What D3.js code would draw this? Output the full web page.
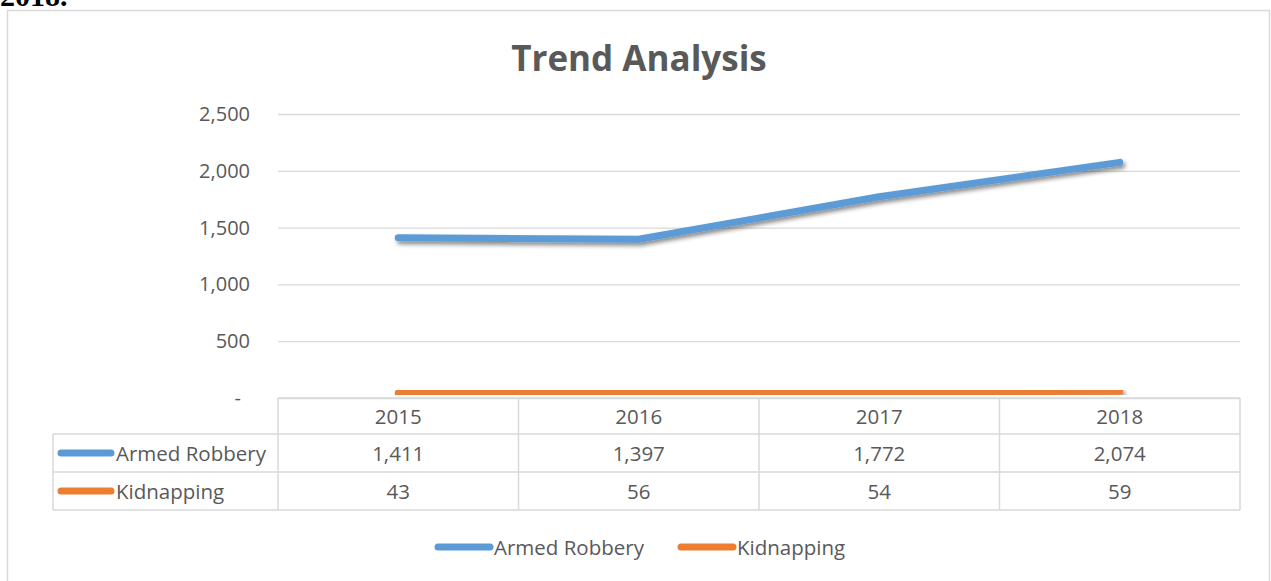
<!DOCTYPE html>
<html>
<head>
<meta charset="utf-8">
<script src="https://cdn.jsdelivr.net/npm/d3@7"></script>
<style>
  body { margin: 0; background: #fff; }
  text { font-family: "Open Sans", sans-serif; }
</style>
</head>
<body>
<svg id="chart" width="1271" height="581"></svg>
<script>
const years = ['2015', '2016', '2017', '2018'];
const robbery = [1411, 1397, 1772, 2074];
const kidnapping = [43, 56, 54, 59];
const seriesNames = ['Armed Robbery', 'Kidnapping'];
const seriesColors = ['#5b9bd5', '#ed7d31'];
const yTicks = [0, 500, 1000, 1500, 2000, 2500];

const svg = d3.select('#chart');
const width = +svg.attr('width');
const height = +svg.attr('height');

const series = [robbery, kidnapping];

// drop shadow like the office chart
const defs = svg.append('defs');
const f = defs.append('filter').attr('id', 'shadow')
    .attr('x', '-5%').attr('y', '-50%').attr('width', '110%').attr('height', '200%');
f.append('feDropShadow').attr('dx', 2).attr('dy', 3).attr('stdDeviation', 2)
    .attr('flood-color', '#000').attr('flood-opacity', 0.45);

// page text cut at top
svg.append('text').attr('x', 0).attr('y', 6)
    .style('font-family', '"Liberation Serif", serif').style('font-weight', 'bold')
    .style('font-size', '30px').attr('fill', '#000').text('2018.');

// chart frame
svg.append('rect').attr('x', 7.5).attr('y', 10.5).attr('width', 1262).attr('height', 600)
    .attr('fill', 'none').attr('stroke', '#d9d9d9').attr('stroke-width', 1.5);

svg.append('text').attr('x', 639).attr('y', 71).attr('text-anchor', 'middle')
    .style('font-size', '35px').style('font-weight', 'bold').attr('fill', '#595959')
    .text('Trend Analysis');

const margin = {top: 114, left: 278, right: 31};
const plotBottom = 398;

const x = d3.scaleBand().domain(years).range([margin.left, width - margin.right]);
const y = d3.scaleLinear().domain([0, 2500]).range([plotBottom, margin.top]);

const fmt = d3.format(',');

const yAxis = d3.axisLeft(y).tickValues(yTicks)
    .tickSize(-(x.range()[1] - x.range()[0]))
    .tickPadding(28)
    .tickFormat(d => d === 0 ? '-' : fmt(d));

const gy = svg.append('g').attr('transform', `translate(${margin.left},0)`).call(yAxis);
gy.select('.domain').remove();
gy.selectAll('.tick line').attr('stroke', '#d9d9d9').attr('stroke-width', 1.3);
gy.selectAll('.tick text').attr('fill', '#595959').style('font-size', '20px')
    .style('font-family', '"Open Sans", sans-serif');
gy.selectAll('.tick text').filter(d => d === 0).attr('dx', -9);

// lines
const line = d3.line().x((d, i) => x(years[i]) + x.bandwidth() / 2).y(d => y(d));
svg.selectAll('.series').data(series).enter().append('path')
    .attr('class', 'series')
    .attr('d', line)
    .attr('fill', 'none')
    .attr('stroke', (d, i) => seriesColors[i])
    .attr('stroke-width', 7)
    .attr('stroke-linecap', 'round')
    .attr('stroke-linejoin', 'round')
    .attr('filter', 'url(#shadow)');

// data table
const rowY = [plotBottom, 434, 472, 510];
const tableLeft = 53;
const tableRight = x.range()[1];
const grid = svg.append('g').attr('stroke', '#d9d9d9').attr('stroke-width', 1.5).attr('fill', 'none');
grid.append('line').attr('x1', margin.left).attr('x2', tableRight).attr('y1', rowY[0]).attr('y2', rowY[0]);
[1, 2, 3].forEach(r => {
  grid.append('line').attr('x1', tableLeft).attr('x2', tableRight).attr('y1', rowY[r]).attr('y2', rowY[r]);
});
grid.append('line').attr('x1', tableLeft).attr('x2', tableLeft).attr('y1', rowY[1]).attr('y2', rowY[3]);
years.forEach(yr => {
  grid.append('line').attr('x1', x(yr)).attr('x2', x(yr)).attr('y1', rowY[0]).attr('y2', rowY[3]);
});
grid.append('line').attr('x1', tableRight).attr('x2', tableRight).attr('y1', rowY[0]).attr('y2', rowY[3]);

const cellText = (tx, ty, s, anchor) => svg.append('text').attr('x', tx).attr('y', ty)
    .attr('text-anchor', anchor || 'middle').attr('dominant-baseline', 'central')
    .attr('fill', '#595959').style('font-size', '20.5px').text(s);

years.forEach(yr => cellText(x(yr) + x.bandwidth() / 2, (rowY[0] + rowY[1]) / 2, yr));
series.forEach((s, r) => {
  const cy = (rowY[r + 1] + rowY[r + 2]) / 2;
  svg.append('line').attr('x1', 61).attr('x2', 111).attr('y1', cy).attr('y2', cy)
      .attr('stroke', seriesColors[r]).attr('stroke-width', 7).attr('stroke-linecap', 'round');
  cellText(116, cy, seriesNames[r], 'start');
  s.forEach((v, i) => cellText(x(years[i]) + x.bandwidth() / 2, cy, fmt(v)));
});

// legend
const legendItems = [{x: 438}, {x: 681}];
legendItems.forEach((it, i) => {
  svg.append('line').attr('x1', it.x).attr('x2', it.x + 52).attr('y1', 547).attr('y2', 547)
      .attr('stroke', seriesColors[i]).attr('stroke-width', 7).attr('stroke-linecap', 'round');
  svg.append('text').attr('x', it.x + 56).attr('y', 547).attr('dominant-baseline', 'central')
      .attr('fill', '#595959').style('font-size', '20.5px').text(seriesNames[i]);
});
</script>
</body>
</html>
